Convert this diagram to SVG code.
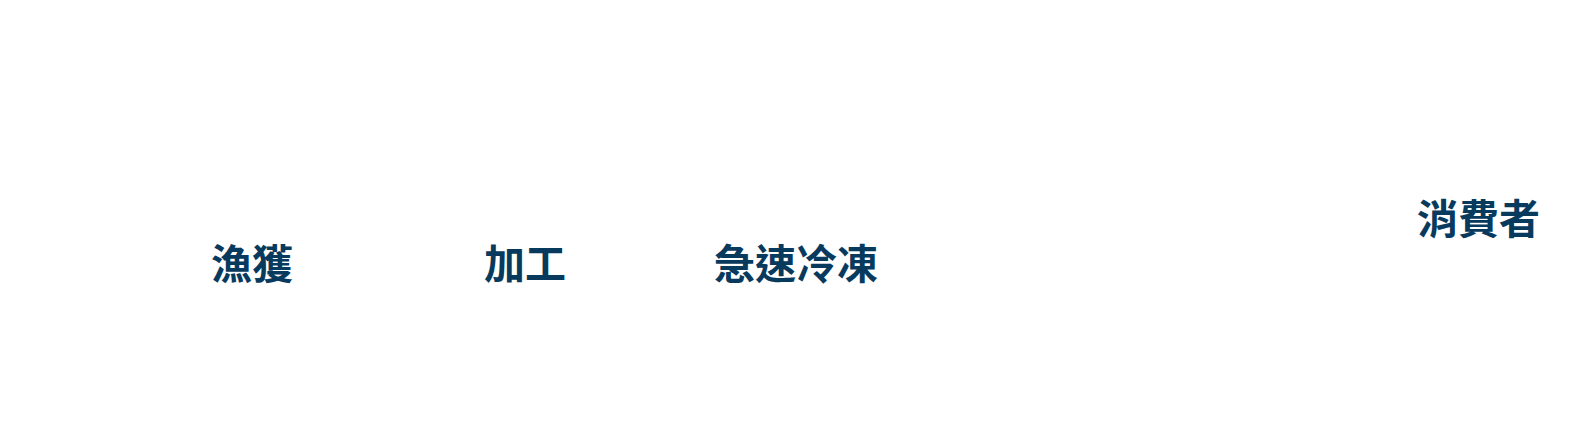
<svg xmlns="http://www.w3.org/2000/svg" width="1594" height="432" viewBox="0 0 1594 432">
<style>
.lbl{font-family:"Noto Sans CJK TC","Noto Sans CJK JP",sans-serif;font-size:41px;font-weight:700;fill:#083a5e;}
</style>
<rect width="1594" height="432" fill="#ffffff"/>
<g id="connectors"></g>
<g id="node-catch"><text class="lbl" x="211" y="279">漁獲</text></g>
<g id="node-process"><text class="lbl" x="484" y="279">加工</text></g>
<g id="node-freeze"><text class="lbl" x="714" y="279">急速冷凍</text></g>
<g id="node-consumer"><text class="lbl" x="1417" y="234">消費者</text></g>
</svg>
